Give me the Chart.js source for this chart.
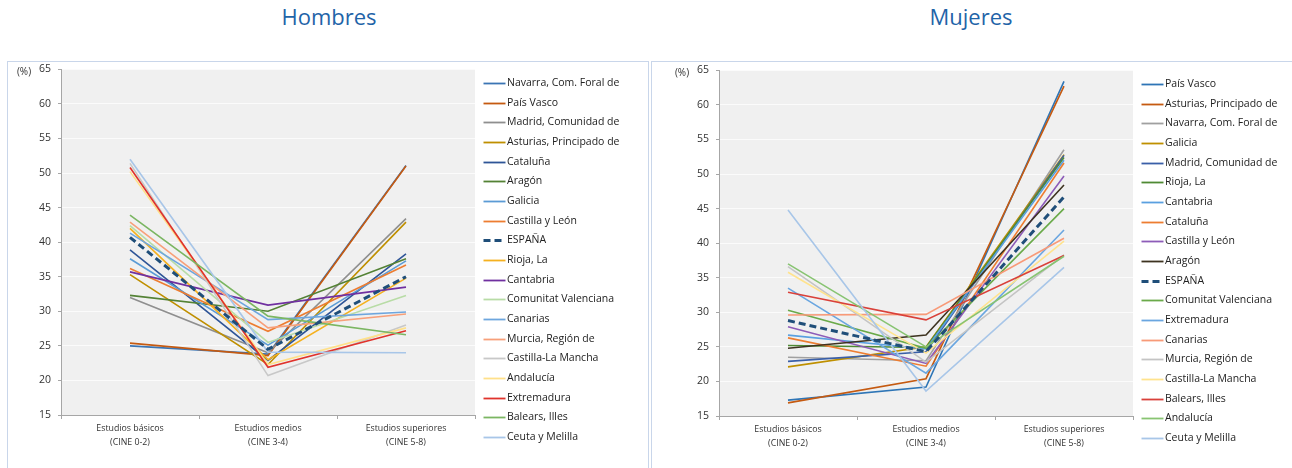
<!DOCTYPE html>
<html lang="es">
<head>
<meta charset="utf-8">
<title>Población por nivel de estudios</title>
<script src="https://cdn.jsdelivr.net/npm/chart.js@4.4.1/dist/chart.umd.min.js"></script>
<style>
  html, body { margin: 0; padding: 0; background: #ffffff; }
  body { width: 1292px; height: 468px; position: relative; overflow: hidden; font-family: "Open Sans", sans-serif; }
  .title { position: absolute; top: 1px; width: 400px; text-align: center; font-size: 22px; line-height: 30px; color: #1f64a8; }
  .panel { position: absolute; top: 61px; height: 430px; border: 1px solid #c9d6ea; box-sizing: border-box; }
  .panel canvas { position: absolute; left: 0; }
</style>
</head>
<body>
<div class="title" style="left:129px">Hombres</div>
<div class="title" style="left:771px">Mujeres</div>
<div class="panel" style="left:7px; width:642px;"><canvas id="chartHombres" width="640" height="410" style="top:-6px"></canvas></div>
<div class="panel" style="left:651px; width:660px;"><canvas id="chartMujeres" width="640" height="409" style="top:-5px"></canvas></div>

<script>
// Categories (education levels) and axis ticks
const categories = [
  ['Estudios básicos', '(CINE 0-2)'],
  ['Estudios medios', '(CINE 3-4)'],
  ['Estudios superiores', '(CINE 5-8)']
];
const yTickValues = [15, 20, 25, 30, 35, 40, 45, 50, 55, 60, 65];

// Hombres: regions in legend order, and % per education level
const regionesHombres = [
  'Navarra, Com. Foral de', 'País Vasco', 'Madrid, Comunidad de', 'Asturias, Principado de',
  'Cataluña', 'Aragón', 'Galicia', 'Castilla y León', 'ESPAÑA', 'Rioja, La', 'Cantabria',
  'Comunitat Valenciana', 'Canarias', 'Murcia, Región de', 'Castilla-La Mancha', 'Andalucía',
  'Extremadura', 'Balears, Illes', 'Ceuta y Melilla'
];
const hombresBasicos     = [25.0, 25.4, 32.0, 35.3, 38.9, 32.3, 37.6, 36.2, 40.7, 42.0, 35.7, 42.4, 41.3, 42.9, 51.4, 50.2, 50.8, 43.9, 52.0];
const hombresMedios      = [23.8, 23.6, 24.0, 22.3, 22.9, 30.0, 25.1, 27.1, 24.5, 23.0, 30.9, 25.5, 28.8, 27.6, 20.7, 22.3, 21.9, 29.3, 24.1];
const hombresSuperiores  = [51.1, 51.0, 43.4, 42.9, 38.3, 37.6, 37.3, 36.7, 35.0, 34.8, 33.5, 32.3, 29.9, 29.6, 28.0, 27.6, 27.2, 26.6, 24.0];
const coloresHombres = [
  '#3b75b4', '#c55a11', '#8f8f8f', '#bf8f00', '#2f5597', '#548235', '#5b9bd5', '#ed7d31', '#1f4e79',
  '#f5b120', '#7030a0', '#b8dca6', '#6ea6de', '#f7a07a', '#c8c8c8', '#ffe08a', '#e0332c', '#7bb662', '#a8c6e8'
];

// Mujeres: regions in legend order, and % per education level
const regionesMujeres = [
  'País Vasco', 'Asturias, Principado de', 'Navarra, Com. Foral de', 'Galicia', 'Madrid, Comunidad de',
  'Rioja, La', 'Cantabria', 'Cataluña', 'Castilla y León', 'Aragón', 'ESPAÑA', 'Comunitat Valenciana',
  'Extremadura', 'Canarias', 'Murcia, Región de', 'Castilla-La Mancha', 'Balears, Illes', 'Andalucía',
  'Ceuta y Melilla'
];
const mujeresBasicos    = [17.3, 16.9, 23.5, 22.1, 22.9, 25.2, 26.7, 26.3, 27.9, 24.8, 28.8, 30.3, 33.5, 29.6, 36.6, 35.8, 32.9, 37.0, 44.8];
const mujeresMedios     = [19.2, 20.4, 23.0, 25.0, 24.3, 24.9, 24.7, 22.2, 22.6, 26.7, 24.3, 24.8, 21.2, 29.7, 22.8, 24.1, 28.9, 25.0, 18.6];
const mujeresSuperiores = [63.4, 62.7, 53.5, 52.8, 52.7, 52.4, 52.0, 51.6, 49.7, 48.4, 46.7, 45.0, 41.9, 40.7, 38.3, 40.3, 38.2, 38.1, 36.5];
const coloresMujeres = [
  '#2e75b6', '#c55a11', '#a0a0a0', '#bf9000', '#3a5fa8', '#4f8a34', '#5aa0e0', '#ed7d31', '#8d5cb8', '#3d3320',
  '#1f4e79', '#6aaa4a', '#6aa6e0', '#f89a78', '#c4c4c4', '#ffe38e', '#d9413a', '#88c472', '#a8c6e8'
];

const FONT = '"Open Sans", sans-serif';

// Grey plot background, "(%)" unit label and a line-sample legend beside the plot
const panelDecor = {
  id: 'panelDecor',
  beforeDraw(chart) {
    const { ctx, chartArea: a } = chart;
    ctx.save();
    ctx.fillStyle = '#f0f0f0';
    ctx.fillRect(a.left, a.top, a.right - a.left, a.bottom - a.top);
    ctx.restore();
  },
  afterDraw(chart) {
    const { ctx, chartArea: a } = chart;
    ctx.save();
    ctx.font = '10px ' + FONT;
    ctx.fillStyle = '#333333';
    ctx.textAlign = 'center';
    ctx.textBaseline = 'middle';
    ctx.fillText('(%)', a.left - 37, a.top + 3);

    ctx.font = '10.5px ' + FONT;
    ctx.textAlign = 'left';
    chart.data.datasets.forEach((ds, i) => {
      const y = Math.round(a.top + 13.7 + i * 19.67) + 0.5;
      const x0 = a.right + 8.5;
      ctx.beginPath();
      ctx.setLineDash(ds.borderDash || []);
      ctx.lineWidth = ds.borderDash && ds.borderDash.length ? 3 : 1.8;
      ctx.strokeStyle = ds.borderColor;
      ctx.moveTo(x0, y);
      ctx.lineTo(x0 + 22, y);
      ctx.stroke();
      ctx.setLineDash([]);
      ctx.fillStyle = '#222222';
      ctx.fillText(ds.label, a.right + 32, y);
    });
    ctx.restore();
  }
};

function buildChart(canvasId, names, colors, basicos, medios, superiores, geom) {
  const datasets = names.map((name, i) => {
    const isTotal = name === 'ESPAÑA';
    return {
      label: name,
      data: [basicos[i], medios[i], superiores[i]],
      borderColor: colors[i],
      backgroundColor: colors[i],
      borderWidth: isTotal ? 3 : 1.6,
      borderDash: isTotal ? [7, 4] : [],
      pointRadius: 0,
      pointHoverRadius: 0,
      tension: 0,
      fill: false,
      order: isTotal ? -1 : names.length - i
    };
  });

  return new Chart(document.getElementById(canvasId), {
    type: 'line',
    data: { labels: categories, datasets },
    options: {
      responsive: false,
      animation: false,
      devicePixelRatio: 1,
      events: [],
      layout: { padding: { top: 0, right: geom.right, bottom: 0, left: 0 } },
      plugins: { legend: { display: false }, tooltip: { enabled: false } },
      scales: {
        x: {
          type: 'category',
          offset: true,
          grid: { offset: true, drawOnChartArea: false, drawTicks: true, tickLength: 4, tickColor: '#a6a6a6' },
          border: { color: '#a6a6a6', width: 1 },
          ticks: { color: '#333333', font: { family: FONT, size: 8.8, lineHeight: 1.55 }, padding: 3, maxRotation: 0, autoSkip: false },
          afterFit(s) { s.height = geom.xh; }
        },
        y: {
          min: 15,
          max: 65,
          afterBuildTicks(s) { s.ticks = yTickValues.map(v => ({ value: v })); },
          ticks: { color: '#333333', font: { family: FONT, size: 10.5 }, padding: 7 },
          grid: { color: '#fbfbfb', lineWidth: 1, tickLength: 3, tickColor: '#a6a6a6' },
          border: { color: '#a6a6a6', width: 1 },
          afterFit(s) { s.width = geom.yw; }
        }
      }
    },
    plugins: [panelDecor]
  });
}

buildChart('chartHombres', regionesHombres, coloresHombres, hombresBasicos, hombresMedios, hombresSuperiores,
  { right: 173, yw: 53, xh: 51 });
buildChart('chartMujeres', regionesMujeres, coloresMujeres, mujeresBasicos, mujeresMedios, mujeresSuperiores,
  { right: 159, yw: 67, xh: 50 });
</script>
</body>
</html>
